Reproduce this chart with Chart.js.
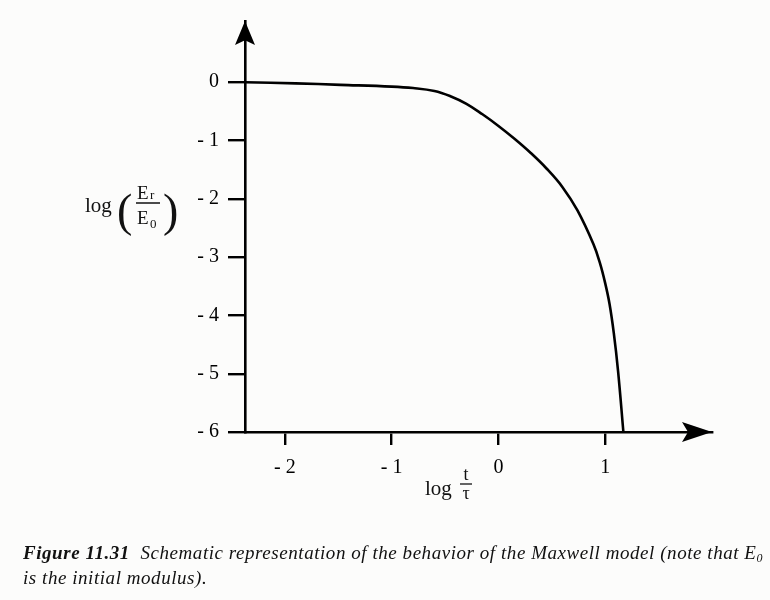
<!DOCTYPE html>
<html>
<head>
<meta charset="utf-8">
<script src="https://cdn.jsdelivr.net/npm/chart.js@4/dist/chart.umd.min.js"></script>
<style>
  html, body { margin: 0; padding: 0; background: #fcfcfb; }
  #wrap { position: relative; width: 770px; height: 600px; }
  #grafica { position: absolute; left: 0; top: 0; }
  .pie {
    position: absolute; left: 23px; top: 540px; width: 745px;
    font-family: "Liberation Serif", serif; font-style: italic;
    font-size: 19px; letter-spacing: 0.55px; line-height: 25px; color: #111; white-space: nowrap;
  }
  .pie b { font-weight: bold; }
  .pie sub { font-size: 12px; vertical-align: -3px; line-height: 0; }
</style>
</head>
<body>
<div id="wrap">
  <canvas id="grafica" width="770" height="600"></canvas>
  <div class="pie">
    <div><b>Figure 11.31</b>&nbsp; Schematic representation of the behavior of the Maxwell model (note that E<sub>0</sub></div>
    <div>is the initial modulus).</div>
  </div>
</div>
<script>
// curva de relajación leída punto a punto: log(t/τ) contra log(Er/E0)
const logT = [-2.37, -1.9, -1.48, -1.0, -0.8, -0.6, -0.45, -0.3, -0.15, 0.0, 0.15, 0.3, 0.45, 0.6, 0.74, 0.89, 0.95, 1.0, 1.04, 1.08, 1.12, 1.17];
const logE = [0, -0.02, -0.045, -0.075, -0.1, -0.15, -0.24, -0.37, -0.55, -0.75, -0.97, -1.21, -1.48, -1.8, -2.2, -2.78, -3.1, -3.45, -3.8, -4.3, -4.95, -6];

const ticksX = [-2, -1, 0, 1];
const ticksY = [0, -1, -2, -3, -4, -5, -6];

const FUENTE = '"Liberation Serif", "Times New Roman", serif';

function etiqueta(v) {
  return v < 0 ? "- " + Math.abs(v) : String(v);
}

// punta de flecha con la base ligeramente hundida
function flecha(ctx, x, y, ang, largo, ancho) {
  ctx.save();
  ctx.translate(x, y);
  ctx.rotate(ang);
  ctx.beginPath();
  ctx.moveTo(0, 0);
  ctx.lineTo(-largo, -ancho / 2);
  ctx.lineTo(-largo * 0.8, 0);
  ctx.lineTo(-largo, ancho / 2);
  ctx.closePath();
  ctx.fillStyle = "#000";
  ctx.fill();
  ctx.restore();
}

const ejesConFlechas = {
  id: "ejesConFlechas",
  afterDraw(chart) {
    const ctx = chart.ctx;
    const a = chart.chartArea;
    flecha(ctx, a.right, a.bottom, 0, 30, 20);
    flecha(ctx, a.left, a.top, -Math.PI / 2, 24, 20);

    ctx.save();
    ctx.fillStyle = "#111";
    ctx.strokeStyle = "#111";
    ctx.textBaseline = "alphabetic";

    // título del eje y: log(Er / E0)
    ctx.font = "21px " + FUENTE;
    ctx.textAlign = "left";
    ctx.fillText("log", 85, 212);
    ctx.font = "46px " + FUENTE;
    ctx.fillText("(", 117, 226);
    ctx.fillText(")", 163, 226);
    ctx.font = "19px " + FUENTE;
    ctx.fillText("E", 137, 199);
    ctx.fillText("E", 137, 224);
    ctx.font = "13px " + FUENTE;
    ctx.fillText("r", 150, 199);
    ctx.fillText("0", 150, 228);
    ctx.lineWidth = 1.5;
    ctx.beginPath();
    ctx.moveTo(136, 203);
    ctx.lineTo(160, 203);
    ctx.stroke();

    // título del eje x: log(t / τ)
    ctx.font = "21px " + FUENTE;
    ctx.fillText("log", 425, 495);
    ctx.font = "18px " + FUENTE;
    ctx.textAlign = "center";
    ctx.fillText("t", 466, 480);
    ctx.fillText("τ", 466, 499);
    ctx.lineWidth = 1.3;
    ctx.beginPath();
    ctx.moveTo(460, 484);
    ctx.lineTo(472, 484);
    ctx.stroke();
    ctx.restore();
  }
};

const puntos = logT.map((x, i) => ({ x: x, y: logE[i] }));

new Chart(document.getElementById("grafica"), {
  type: "scatter",
  data: {
    datasets: [{
      data: puntos,
      showLine: true,
      borderColor: "#000",
      borderWidth: 2.6,
      pointRadius: 0,
      tension: 0.4,
      clip: false
    }]
  },
  options: {
    responsive: false,
    animation: false,
    events: [],
    layout: { padding: { left: 0, right: 58, top: 15, bottom: 0 } },
    plugins: {
      legend: { display: false },
      tooltip: { enabled: false },
      title: { display: false }
    },
    scales: {
      x: {
        type: "linear",
        min: -2.374,
        max: 2.0,
        afterFit: s => { s.height = 168; },
        afterBuildTicks: s => { s.ticks = ticksX.map(v => ({ value: v })); },
        border: { display: true, color: "#000", width: 2.6 },
        grid: { drawOnChartArea: false, drawTicks: true, tickLength: 13, color: "#000", lineWidth: 2.4 },
        ticks: {
          callback: etiqueta,
          color: "#000",
          padding: 11,
          maxRotation: 0,
          font: { family: FUENTE, size: 20 }
        }
      },
      y: {
        type: "linear",
        min: -6,
        max: 1.05,
        afterFit: s => { s.width = 245; },
        afterBuildTicks: s => { s.ticks = ticksY.map(v => ({ value: v })); },
        border: { display: true, color: "#000", width: 2.6 },
        grid: { drawOnChartArea: false, drawTicks: true, tickLength: 17, color: "#000", lineWidth: 2.4 },
        ticks: {
          callback: etiqueta,
          color: "#000",
          padding: 9,
          font: { family: FUENTE, size: 20 }
        }
      }
    }
  },
  plugins: [ejesConFlechas]
});
</script>
</body>
</html>
